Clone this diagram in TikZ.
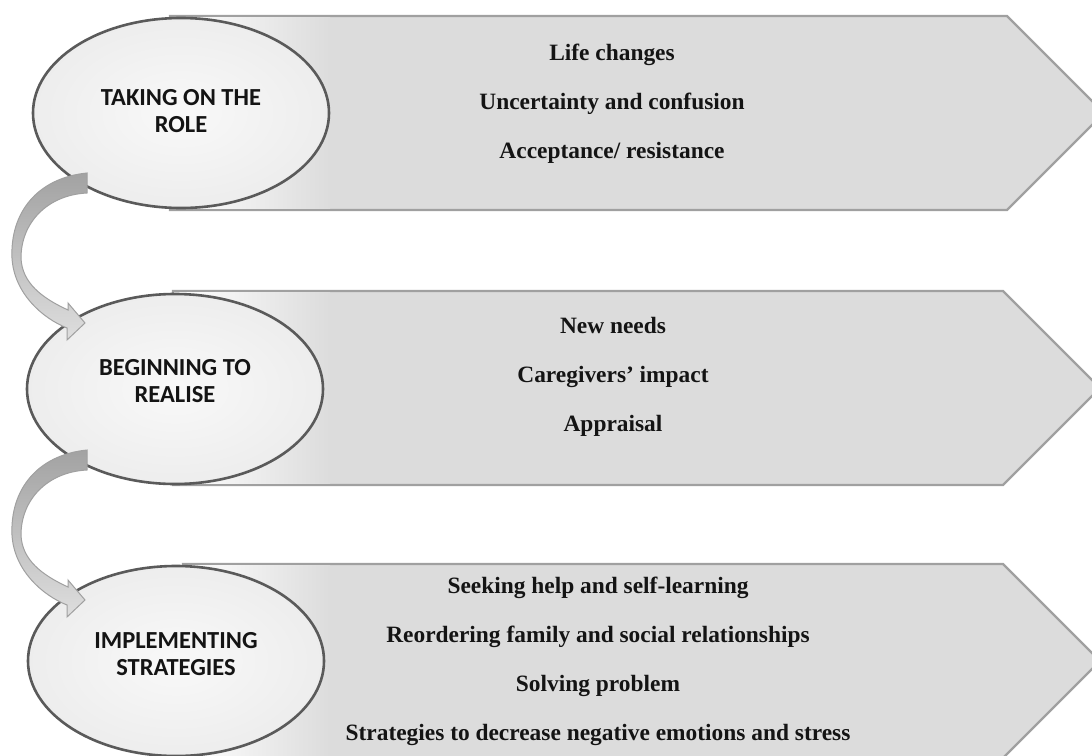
\documentclass[tikz,border=0pt]{standalone}
\usepackage{fontspec}
\setmainfont{Liberation Serif}
\newfontfamily\calib{Carlito}
\usetikzlibrary{shapes.geometric,calc}
\definecolor{arrowfill}{HTML}{DCDCDC}
\definecolor{arrowline}{HTML}{A0A0A0}
\definecolor{ellline}{HTML}{5A5A5A}
\definecolor{ribtop}{HTML}{A2A2A2}
\definecolor{ribbot}{HTML}{DEDEDE}
\definecolor{txt}{HTML}{141414}
\tikzset{
  stage/.style={ellipse, minimum width=296pt, minimum height=190pt, draw=ellline,
    line width=2.6pt, inner color=gray!5, outer color=gray!14,
    font=\calib\bfseries\fontsize{24.5}{27}\selectfont, align=center, text=txt},
  band/.style={fill=arrowfill, draw=arrowline, line width=2.2pt, line join=miter},
  items/.style={font=\bfseries\fontsize{23.4}{49}\selectfont, align=center, text=txt},
  ribbon/.pic={
    \path[top color=ribtop, bottom color=ribbot, draw=arrowline, line width=1pt]
      (0,0) .. controls (-50,5) and (-77,40) .. (-75,85)
      .. controls (-73,120) and (-45,145) .. (-20,155)
      -- (-20,167) -- (-2,150) -- (-19,130) -- (-19,137)
      .. controls (-45,125) and (-65,110) .. (-66,85)
      .. controls (-66,50) and (-40,22) .. (0,20) -- cycle;
  }
}
\begin{document}
\begin{tikzpicture}[x=1pt, y=-1pt]
\useasboundingbox (0,0) rectangle (1092,755);
\clip (0,0) rectangle (1092,755);
\fill[white] (0,0) rectangle (1092,755);
% chevron bands
\path[band] (170,16) -- (1007,16) -- (1104,113) -- (1007,210) -- (170,210) -- cycle;
\path[band] (173,291) -- (1003,291) -- (1100,388) -- (1003,485) -- (173,485) -- cycle;
\path[band] (183,564) -- (1003,564) -- (1100,661) -- (1003,758) -- (183,758) -- cycle;
\fill[left color=white, right color=arrowfill] (171,17.2) rectangle (330,208.8);
\fill[left color=white, right color=arrowfill] (174,292.2) rectangle (330,483.8);
\fill[left color=white, right color=arrowfill] (184,565.2) rectangle (330,756.8);
% item lists
\node[items] (l1) at (612,104) {Life changes\\Uncertainty and confusion\\Acceptance/ resistance};
\node[items] (l2) at (613,377) {New needs\\Caregivers’ impact\\Appraisal};
\node[items] (l3) at (598,661) {Seeking help and self-learning\\Reordering family and social relationships\\Solving problem\\Strategies to decrease negative emotions and stress};
% stages
\node[stage, text depth=4pt] (e1) at (181,113) {TAKING ON THE\\ROLE};
\node[stage, text depth=16pt] (e2) at (175,389) {BEGINNING TO\\REALISE};
\node[stage, text depth=14pt] (e3) at (176,661) {IMPLEMENTING\\STRATEGIES};
% curved connectors
\coordinate (r1) at ($(e1.center)+(-94,60)$);
\coordinate (r2) at ($(e2.center)+(-88,61)$);
\pic at (r1) {ribbon};
\pic at (r2) {ribbon};
\end{tikzpicture}
\end{document}
